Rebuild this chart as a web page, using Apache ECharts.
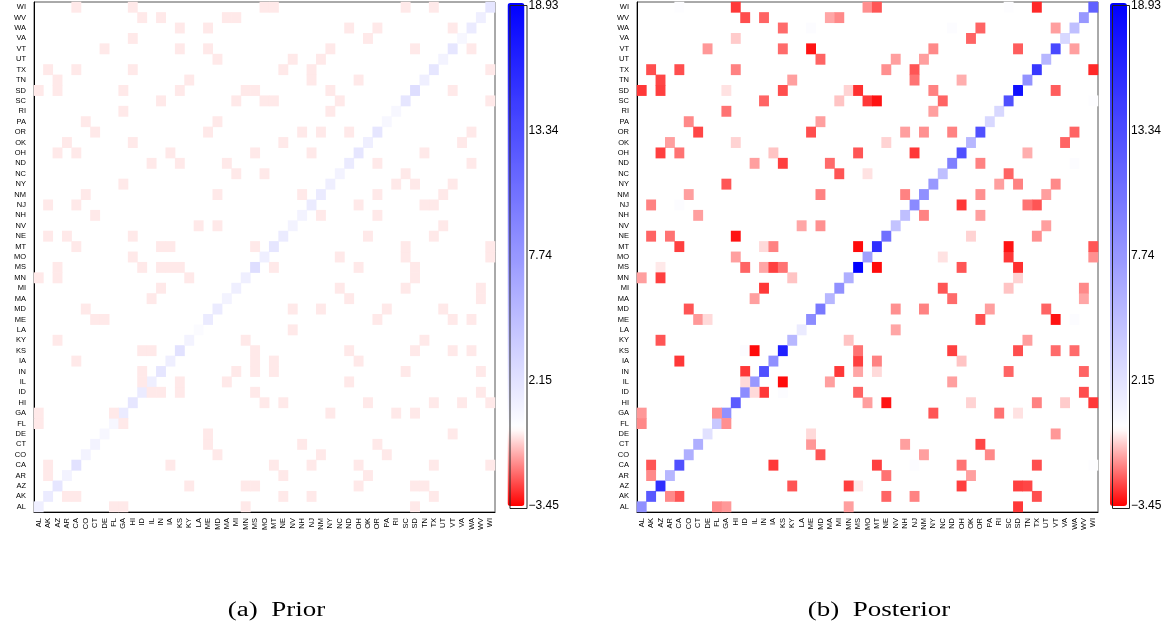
<!DOCTYPE html>
<html>
<head>
<meta charset="utf-8">
<script src="https://cdn.jsdelivr.net/npm/echarts@6/dist/echarts.min.js"></script>
<style>
  html, body { margin: 0; padding: 0; background: #fff; }
  #chart { width: 1169px; height: 627px; }
</style>
</head>
<body>
<div id="chart"></div>
<script>
// states, bottom (AL) to top (WI) on y, left to right on x
var states = ['AL','AK','AZ','AR','CA','CO','CT','DE','FL','GA','HI','ID','IL','IN','IA','KS','KY','LA',
  'ME','MD','MA','MI','MN','MS','MO','MT','NE','NV','NH','NJ','NM','NY','NC','ND','OH','OK','OR','PA',
  'RI','SC','SD','TN','TX','UT','VT','VA','WA','WV','WI'];

// diagonal values, same order as states
var priorDiag = [1.2,1.5,1.8,0.9,2.1,0.9,0.9,0.6,0.6,1.5,1.8,1.5,1.2,1.8,1.2,2.1,0.9,0.3,
  1.5,1.5,0.9,1.2,1.2,2.4,1.2,1.8,1.5,0.9,0.9,1.5,1.5,1.2,0.9,1.5,1.8,1.2,1.8,0.6,
  0.6,1.8,2.4,1.2,1.8,0.9,1.8,0.6,1.5,1.2,1.8];
var postDiag = [8.2,12.3,15.4,5.3,13.0,5.9,5.9,2.2,4.1,8.2,12.2,8.5,7.6,13.0,8.2,16.6,5.3,1.5,
  8.5,10.0,5.3,8.2,5.9,18.93,7.1,15.4,10.6,4.4,4.7,8.7,8.2,7.6,4.7,9.4,13.0,5.3,13.0,2.9,
  2.9,13.0,17.7,8.0,14.8,5.3,13.6,2.9,4.7,7.6,11.8];

// off-diagonal pairs (symmetric): [state, state, prior, posterior]
var pairs = [
  ['WI','HI',-0.3,-2.7],['WI','CA',-0.3,0.15],['WI','MO',-0.3,-1.5],['WI','MT',-0.3,-2.3],
  ['WI','SC',-0.3,0.1],['WI','TX',-0.3,-2.9],
  ['WV','ID',-0.3,-2.4],['WV','IN',-0.3,-2.1],['WV','MA',-0.3,-1.2],['WV','MI',-0.3,-1.6],
  ['WA','KS',-0.3,-2.0],['WA','ME',-0.3,0.2],['WA','ND',-0.3,0.2],['WA','OR',-0.3,-2.1],['WA','VT',-0.3,-1.3],
  ['VA','HI',-0.3,-0.7],['VA','OK',-0.3,-2.1],
  ['VT','DE',-0.3,-1.4],['VT','KS',-0.3,-2.0],['VT','ME',-0.3,-3.2],['VT','NY',-0.3,-1.6],['VT','SD',-0.3,-2.2],
  ['UT','MD',-0.3,-2.1],['UT','NV',-0.3,-1.3],['UT','NM',-0.3,-1.3],
  ['TX','AK',-0.3,-2.4],['TX','CA',-0.3,-2.4],['TX','HI',-0.3,-1.7],['TX','NE',-0.3,-1.5],['TX','NJ',-0.3,-2.3],
  ['TN','AZ',-0.3,-2.5],['TN','KY',-0.3,-1.3],['TN','NJ',-0.3,-1.9],['TN','OH',-0.3,-1.1],
  ['SD','AL',-0.3,-2.7],['SD','AZ',-0.3,-2.6],['SD','GA',-0.3,-0.4],['SD','KS',-0.3,-2.4],
  ['SD','MN',-0.3,-0.6],['SD','MS',-0.3,-2.8],['SD','NY',-0.3,-1.7],
  ['SC','IN',-0.3,-2.1],['SC','MI',-0.3,-0.8],['SC','MO',-0.3,-2.7],['SC','MT',-0.3,-3.2],['SC','NC',-0.3,-2.1],
  ['RI','GA',-0.3,-1.9],['RI','NY',-0.3,-1.3],
  ['PA','CO',-0.3,-1.6],['PA','MD',-0.3,-1.3],
  ['OR','CT',-0.3,-2.5],['OR','ME',-0.3,-2.4],['OR','NH',-0.3,-1.3],['OR','NM',-0.3,-1.5],['OR','ND',-0.3,-1.7],
  ['OK','AR',-0.3,-1.3],['OK','HI',-0.3,-0.6],['OK','NE',-0.3,-0.6],
  ['OH','AZ',-0.3,-2.6],['OH','CA',-0.3,-1.9],['OH','IA',-0.3,-0.8],['OH','MS',-0.3,-2.3],['OH','NJ',-0.3,-2.7],
  ['ND','IL',-0.3,-1.3],['ND','KS',-0.3,-2.6],['ND','MA',-0.3,-2.0],
  ['NC','MI',-0.3,-2.3],['NC','MO',-0.3,-0.4],
  ['NY','GA',-0.3,-2.3],
  ['NM','CO',-0.3,-1.3],['NM','MD',-0.3,-1.7],['NM','NH',-0.3,-1.7],
  ['NJ','AK',-0.3,-1.7],['NJ','CA',-0.3,0.2],
  ['NH','CT',-0.3,-1.3],
  ['NV','LA',-0.3,-1.2],['NV','MD',-0.3,-1.5],
  ['NE','AK',-0.3,-2.1],['NE','AR',-0.3,-1.9],['NE','HI',-0.3,-3.2],
  ['MT','CA',-0.3,-2.6],['MT','IN',-0.3,-0.5],['MT','IA',-0.3,-1.7],['MT','MS',-0.3,-3.3],
  ['MO','HI',-0.3,-1.3],
  ['MS','AZ',-0.3,-0.3],['MS','ID',-0.3,-2.1],['MS','IN',-0.3,-1.2],['MS','IA',-0.3,-2.6],['MS','KS',-0.3,-1.9],
  ['MN','AL',-0.3,-1.3],['MN','AZ',-0.3,-2.6],['MN','KY',-0.3,-0.8],
  ['MI','IN',-0.3,-2.7],
  ['MA','IL',-0.3,-1.3],
  ['MD','CO',-0.3,-2.3],
  ['ME','CT',-0.3,-1.4],['ME','DE',-0.3,-0.5],
  ['KY','AZ',-0.3,-2.3],
  ['KS','ID',-0.3,0.2],['KS','IL',-0.3,-3.3],
  ['IA','CA',-0.3,-2.7],
  ['IN','ID',-0.3,-2.7],
  ['IL','ID',-0.3,-0.5],
  ['GA','AL',-0.3,-1.4],['GA','FL',-0.3,-1.5],
  ['FL','AL',-0.3,-1.6],
  ['CA','AK',-0.3,-2.3],
  ['AR','AK',-0.3,-1.6]
];

var scaleMin = -3.45, scaleMax = 18.93;
var barTicks = [18.93, 13.34, 7.74, 2.15, -3.45];
var captions = ['(a)  Prior', '(b)  Posterior'];

function cellData(diag, col) {
  var out = [];
  diag.forEach(function (v, i) { out.push([i, i, v]); });
  pairs.forEach(function (p) {
    var a = states.indexOf(p[0]), b = states.indexOf(p[1]);
    out.push([a, b, p[col]]);
    out.push([b, a, p[col]]);
  });
  return out;
}

// red - white - blue, white at 0
function colorAt(v) {
  var r, g, b, t;
  if (v < 0) { t = Math.min(1, v / scaleMin); r = 255; g = b = Math.round(255 * (1 - t)); }
  else { t = Math.min(1, v / scaleMax); r = g = Math.round(255 * (1 - t)); b = 255; }
  return 'rgb(' + r + ',' + g + ',' + b + ')';
}
var ramp = [];
for (var k = 0; k <= 224; k++) ramp.push(colorAt(scaleMin + (scaleMax - scaleMin) * k / 224));

var chart = echarts.init(document.getElementById('chart'));
var font = 'Liberation Sans';

var panels = [
  { left: 34, bar: 507.5, cap: 276.5 },
  { left: 637, bar: 1110, cap: 879 }
];
var barTop = 3, barH = 503, barW = 17;

var grid = [], xAxis = [], yAxis = [], series = [], visualMap = [], graphic = [];

// heatmap panels: grids 0 and 1
panels.forEach(function (p, i) {
  grid.push({ left: p.left, top: 2, width: 461, height: 510, show: true, borderColor: '#555', borderWidth: 1 });
  xAxis.push({
    gridIndex: i, type: 'category', data: states,
    axisLine: { lineStyle: { color: '#000', width: 1 } },
    axisTick: { alignWithLabel: true, length: 4, lineStyle: { color: '#000' } },
    axisLabel: { interval: 0, rotate: 90, fontSize: 7.5, fontFamily: font, color: '#000', margin: 6 },
    splitLine: { show: false }
  });
  yAxis.push({
    gridIndex: i, type: 'category', data: states,
    axisLine: { lineStyle: { color: '#000', width: 1 } },
    axisTick: { alignWithLabel: true, length: 4, lineStyle: { color: '#000' } },
    axisLabel: { interval: 0, fontSize: 7.5, fontFamily: font, color: '#000', margin: 8 },
    splitLine: { show: false }
  });
  series.push({
    type: 'heatmap', xAxisIndex: i, yAxisIndex: i,
    data: cellData(i === 0 ? priorDiag : postDiag, i === 0 ? 2 : 3),
    emphasis: { disabled: true }, progressive: 0
  });
  visualMap.push({
    type: 'continuous', seriesIndex: i, dimension: 2,
    min: scaleMin, max: scaleMax, calculable: false, hoverLink: false,
    left: p.bar, top: barTop, itemWidth: barW, itemHeight: barH, padding: 0, text: null,
    inRange: { color: ramp }, outOfRange: { color: '#fff' }
  });
  graphic.push({
    type: 'rect', left: p.bar, top: barTop, z: 100, silent: true,
    shape: { width: barW, height: barH },
    style: { fill: 'none', stroke: '#222', lineWidth: 1 }
  });
  graphic.push({
    type: 'text', x: p.cap, y: 611, z: 100, scaleX: 1.35,
    style: { text: captions[i], font: '20px "Liberation Serif"', fill: '#000', align: 'center', verticalAlign: 'middle' }
  });
});

// colorbar tick labels: grids 2 and 3
panels.forEach(function (p, i) {
  grid.push({ left: p.bar, top: barTop, width: barW, height: barH, show: false });
  xAxis.push({ gridIndex: i + 2, type: 'value', show: false });
  yAxis.push({
    gridIndex: i + 2, type: 'value', position: 'right', min: scaleMin, max: scaleMax,
    axisLine: { show: false }, axisTick: { show: false }, splitLine: { show: false },
    axisLabel: {
      customValues: barTicks, fontSize: 12, fontFamily: font, color: '#000', margin: 4,
      formatter: function (v) { return (v < 0 ? '\u2212' : '') + Math.abs(v).toFixed(2); }
    }
  });
});

chart.setOption({
  animation: false,
  grid: grid, xAxis: xAxis, yAxis: yAxis,
  visualMap: visualMap, series: series, graphic: graphic
});
</script>
</body>
</html>
